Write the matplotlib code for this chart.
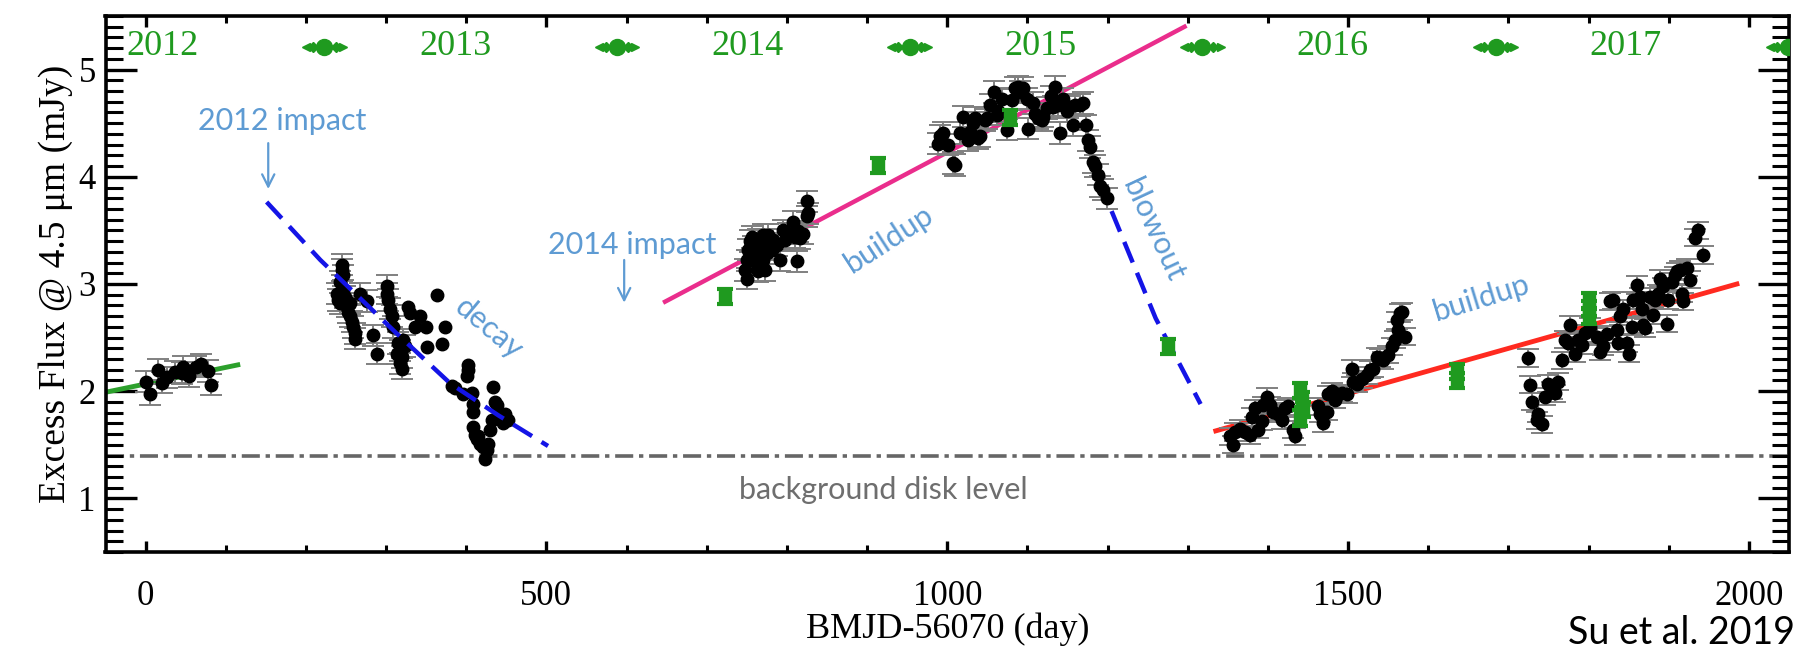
import matplotlib
matplotlib.use("Agg")
import matplotlib.pyplot as plt
from matplotlib.ticker import MultipleLocator

# ---------------- data ----------------
day_2012 = [0.5, 5.5, 15.9, 20.0, 27.1, 36.7, 46.2, 45.0, 54.6, 62.9, 68.7, 77.4, 81.6]
flux_2012 = [2.09, 1.97, 2.20, 2.08, 2.13, 2.18, 2.23, 2.17, 2.14, 2.23, 2.25, 2.19, 2.06]
err_2012 = 0.10

day_2013a = [244.6, 244.6, 245.9, 242.6, 246.7, 238.4, 240.5, 242.6, 248.8, 255.0, 250.9, 253.0,
             255.0, 257.1, 259.2, 261.3, 261.3, 267.5, 275.8, 283.3, 288.3, 300.8, 300.8, 302.8,
             304.9, 307.0, 309.1, 321.6, 315.3, 323.6, 317.4, 313.2, 319.5, 317.4, 319.5]
flux_2013a = [3.18, 3.13, 3.08, 3.02, 2.94, 2.91, 2.85, 2.82, 2.88, 2.82, 2.79, 2.74,
              2.70, 2.65, 2.60, 2.54, 2.49, 2.91, 2.84, 2.52, 2.35, 2.98, 2.91, 2.85,
              2.77, 2.70, 2.60, 2.48, 2.45, 2.42, 2.38, 2.35, 2.32, 2.26, 2.21]
err_2013a = 0.10

day_2013b = [327.8, 329.9, 336.1, 342.3, 349.8, 351.5, 363.1, 369.4, 373.5, 381.8, 386.0, 396.4,
             400.6, 402.6, 402.6, 406.8, 408.9, 408.9, 433.8, 435.9, 438.0, 431.7, 429.7, 442.1,
             448.4, 452.5, 446.3, 408.9, 411.0, 413.0, 415.1, 417.2, 421.3, 425.5, 427.6, 423.4]
flux_2013b = [2.79, 2.73, 2.60, 2.70, 2.60, 2.41, 2.90, 2.44, 2.60, 2.05, 2.03, 1.97,
              2.14, 2.24, 2.20, 1.98, 1.88, 1.81, 2.04, 1.90, 1.87, 1.73, 1.64, 1.78,
              1.79, 1.73, 1.70, 1.67, 1.59, 1.55, 1.58, 1.51, 1.48, 1.45, 1.51, 1.37]

day_2014 = [747.7, 749.8, 749.8, 751.9, 754.0, 756.0, 758.1, 760.2, 762.3, 764.4, 766.4, 768.5,
            770.6, 772.7, 774.8, 776.8, 778.9, 781.0, 783.1, 787.2, 791.4, 795.6, 797.6, 801.8,
            808.0, 810.1, 812.2, 814.3, 816.3, 820.5, 824.7, 826.7, 825.5, 764.4, 770.6]
flux_2014 = [3.13, 3.05, 3.22, 3.32, 3.40, 3.44, 3.35, 3.27, 3.19, 3.12, 3.35, 3.41,
             3.22, 3.13, 3.29, 3.46, 3.38, 3.32, 3.41, 3.36, 3.22, 3.50, 3.41, 3.47,
             3.58, 3.44, 3.21, 3.49, 3.43, 3.47, 3.63, 3.66, 3.77, 3.41, 3.46]
err_2014 = 0.10

day_2015 = [988.9, 990.9, 995.1, 1001.3, 1007.6, 1009.7, 1015.9, 1019.2, 1026.3, 1028.4, 1032.5,
            1034.6, 1038.8, 1040.8, 1047.1, 1049.2, 1053.3, 1058.3, 1061.6, 1063.7, 1068.7, 1074.9,
            1080.3, 1084.5, 1088.7, 1090.7, 1094.9, 1099.1, 1101.1, 1107.4, 1109.5, 1113.6, 1117.8,
            1119.8, 1124.0, 1129.4, 1132.3, 1134.4, 1138.6, 1140.6, 1144.8, 1149.0, 1151.0, 1157.3,
            1159.3, 1165.6, 1169.7, 1172.6, 1176.0, 1178.1, 1182.2, 1184.3, 1188.5, 1190.5, 1193.9,
            1198.9]
flux_2015 = [4.31, 4.38, 4.41, 4.30, 4.13, 4.11, 4.41, 4.56, 4.34, 4.42, 4.50,
             4.55, 4.36, 4.38, 4.53, 4.55, 4.67, 4.79, 4.58, 4.61, 4.73, 4.44,
             4.72, 4.83, 4.84, 4.79, 4.83, 4.73, 4.45, 4.69, 4.59, 4.55, 4.53,
             4.56, 4.64, 4.75, 4.65, 4.84, 4.67, 4.41, 4.73, 4.61, 4.65, 4.48,
             4.67, 4.67, 4.69, 4.48, 4.34, 4.28, 4.14, 4.10, 4.02, 3.91, 3.88,
             3.80]
err_2015 = 0.10

day_2016 = [1352.7, 1356.0, 1358.9, 1365.1, 1371.4, 1377.6, 1379.7, 1383.9, 1388.0, 1392.2, 1394.3,
            1398.4, 1402.6, 1406.7, 1413.0, 1417.1, 1421.3, 1425.4, 1431.7, 1433.8, 1462.9, 1465.0,
            1469.1, 1473.3, 1475.3, 1479.5, 1483.7, 1487.8, 1492.0, 1498.2, 1504.4, 1506.5, 1510.7,
            1516.9, 1523.2, 1527.3, 1531.5, 1535.6, 1539.8, 1544.0, 1550.2, 1554.3, 1558.5, 1562.7,
            1571.0, 1560.6, 1564.7, 1566.8]
flux_2016 = [1.58, 1.50, 1.62, 1.65, 1.62, 1.59, 1.76, 1.84, 1.64, 1.72, 1.87,
             1.95, 1.87, 1.81, 1.79, 1.73, 1.84, 1.86, 1.64, 1.58, 1.86, 1.79,
             1.70, 1.81, 1.97, 2.00, 1.92, 1.97, 1.98, 1.97, 2.21, 2.09, 2.07,
             2.11, 2.15, 2.20, 2.21, 2.32, 2.31, 2.29, 2.34, 2.42, 2.48, 2.57,
             2.51, 2.66, 2.73, 2.74]
err_2016 = 0.08

day_2017 = [1724.8, 1726.9, 1729.0, 1735.2, 1737.3, 1741.4, 1745.6, 1749.8, 1753.9, 1758.1, 1762.2,
            1766.4, 1770.6, 1774.7, 1776.8, 1783.0, 1787.2, 1791.3, 1795.5, 1801.7, 1810.1, 1814.2,
            1818.4, 1822.5, 1826.7, 1830.8, 1835.0, 1837.1, 1839.2, 1843.3, 1847.5, 1850.8, 1853.7,
            1855.8, 1860.0, 1864.1, 1866.2, 1868.3, 1870.3, 1876.6, 1880.7, 1882.8, 1887.0, 1889.1,
            1893.2, 1897.4, 1899.5, 1903.6, 1907.8, 1909.8, 1914.0, 1916.1, 1918.2, 1922.3, 1926.5,
            1932.7, 1936.9, 1943.1]
flux_2017 = [2.31, 2.06, 1.90, 1.73, 1.79, 1.69, 1.95, 2.07, 2.01, 1.98, 2.09,
             2.29, 2.48, 2.45, 2.62, 2.35, 2.48, 2.43, 2.54, 2.60, 2.51, 2.37,
             2.42, 2.53, 2.84, 2.85, 2.57, 2.45, 2.70, 2.77, 2.45, 2.35, 2.60,
             2.85, 2.99, 2.88, 2.77, 2.62, 2.59, 2.88, 2.71, 2.85, 2.91, 3.05,
             2.98, 2.63, 2.85, 3.02, 3.08, 3.12, 3.13, 2.91, 2.84, 3.15, 3.04,
             3.43, 3.50, 3.27]
err_2017 = 0.08

green_day = [723, 913, 1078, 1275, 1440, 1442, 1444, 1440, 1636, 1636, 1800, 1800, 1800]
green_flux = [2.88, 4.11, 4.55, 2.42, 2.01, 1.92, 1.83, 1.75, 2.18, 2.10, 2.85, 2.77, 2.70]
green_err = 0.07

trend_2012_day = [-50, 118]
trend_2012_flux = [1.99, 2.25]
decay_day = [151, 218, 313, 380, 440, 502]
decay_flux = [3.765, 3.224, 2.54, 2.073, 1.775, 1.489]
buildup1_day = [648, 1296]
buildup1_flux = [2.835, 5.40]
blowout_day = [1205, 1260, 1316]
blowout_flux = [3.68, 2.68, 1.88]
buildup2_day = [1335, 1985]
buildup2_flux = [1.63, 3.00]
background_level = 1.4

year_labels = ["2012", "2013", "2014", "2015", "2016", "2017"]
year_label_day = [21, 386, 751, 1116, 1481, 1846]
year_start_day = [223, 588, 953, 1318, 1684, 2049]

# ---------------- figure ----------------
W, H = 1798, 652
fig = plt.figure(figsize=(W / 100, H / 100), dpi=100)
ax = fig.add_axes([105.5 / W, 1 - 552 / H, 1683.5 / W, 536 / H])
ax.set_xlim(-50, 2050)
ax.set_ylim(0.5, 5.5)

serif = "Liberation Serif"
sans = "Lato"
ann_col = "#5e9bd3"
green = "#1f9a1f"

# background level
ax.axhline(background_level, color="#666666", lw=2.6, ls=(0, (5, 1.6, 1.2, 1.6)), zorder=1)

# fitted trend lines
ax.plot(trend_2012_day, trend_2012_flux, color="#2ca02c", lw=3.5, zorder=2, solid_capstyle="butt")
ax.plot(decay_day, decay_flux, color="#1414e6", lw=3.2, ls=(0, (5, 2.5)), zorder=4)
ax.plot(buildup1_day, buildup1_flux, color="#ea2d8c", lw=3.2, zorder=2)
ax.plot(blowout_day, blowout_flux, color="#1414e6", lw=3.2, ls=(0, (5, 2.5)), zorder=4)
ax.plot(buildup2_day, buildup2_flux, color="#ff2a20", lw=3.5, zorder=2)

ekw = dict(fmt="o", color="black", ms=9, ecolor="#808080", elinewidth=1.4,
           capsize=8, capthick=1.4, zorder=3)
for d, f, e in [(day_2012, flux_2012, err_2012), (day_2013a, flux_2013a, err_2013a),
                (day_2014, flux_2014, err_2014), (day_2015, flux_2015, err_2015),
                (day_2016, flux_2016, err_2016), (day_2017, flux_2017, err_2017)]:
    ax.errorbar(d, f, yerr=e, **ekw)
ax.plot(day_2013b, flux_2013b, "o", color="black", ms=9, zorder=3)

ax.errorbar(green_day, green_flux, yerr=green_err, fmt="s", color=green, ms=8,
            ecolor=green, elinewidth=4, capsize=6, capthick=3, zorder=5)

# year labels and year-boundary markers at the top
for lab, d in zip(year_labels, year_label_day):
    ax.text(d, 5.22, lab, color=green, fontsize=26, family=serif, ha="center", va="center")
for d in year_start_day:
    ax.plot([d - 24, d + 24], [5.21, 5.21], color=green, lw=2.2, zorder=5)
    ax.plot([d - 14, d + 14], [5.21, 5.21], "D", color=green, ms=5.5, lw=0, zorder=5)
    ax.plot([d - 23], [5.21], "<", color=green, ms=6, zorder=5)
    ax.plot([d + 23], [5.21], ">", color=green, ms=6, zorder=5)
    ax.plot([d], [5.21], "o", color=green, ms=11.5, zorder=6)

# annotations
ax.text(171, 4.52, "2012 impact", color=ann_col, fontsize=22, family=sans, ha="center", va="center")
ax.annotate("", xy=(153, 3.86), xytext=(153, 4.34),
            arrowprops=dict(arrowstyle="->", color=ann_col, lw=1.6, mutation_scale=22))
ax.text(607, 3.36, "2014 impact", color=ann_col, fontsize=22, family=sans, ha="center", va="center")
ax.annotate("", xy=(597, 2.80), xytext=(597, 3.25),
            arrowprops=dict(arrowstyle="->", color=ann_col, lw=1.6, mutation_scale=22))
ax.text(428, 2.58, "decay", color=ann_col, fontsize=22, family=sans, ha="center", va="center",
        rotation=-40, rotation_mode="anchor")
ax.text(927, 3.42, "buildup", color=ann_col, fontsize=22, family=sans, ha="center", va="center",
        rotation=33, rotation_mode="anchor")
ax.text(1257, 3.50, "blowout", color=ann_col, fontsize=22, family=sans, ha="center", va="center",
        rotation=-65, rotation_mode="anchor")
ax.text(1666, 2.87, "buildup", color=ann_col, fontsize=22, family=sans, ha="center", va="center",
        rotation=17, rotation_mode="anchor")
ax.text(920, 1.08, "background disk level", color="#6e6e6e", fontsize=22, family=sans,
        ha="center", va="center")

# axes styling
for s in ax.spines.values():
    s.set_linewidth(2.6)
ax.xaxis.set_major_locator(MultipleLocator(500))
ax.xaxis.set_minor_locator(MultipleLocator(100))
ax.yaxis.set_major_locator(MultipleLocator(1))
ax.yaxis.set_minor_locator(MultipleLocator(0.1))
ax.tick_params(axis="x", which="major", direction="in", length=8, width=2.4, top=True,
               labelsize=25, pad=20)
ax.tick_params(axis="x", which="minor", direction="in", length=5, width=2.2, top=True)
ax.tick_params(axis="y", which="major", direction="in", length=22, width=2.4, right=True,
               labelsize=25, pad=7)
ax.tick_params(axis="y", which="minor", direction="in", length=12, width=2.2, right=True)
for lab in ax.get_xticklabels() + ax.get_yticklabels():
    lab.set_family(serif)

ax.set_xlabel("BMJD-56070 (day)", fontsize=26, family=serif, labelpad=0)
ax.set_ylabel("Excess Flux @ 4.5 \u03bcm (mJy)", fontsize=27, family=serif, labelpad=4)

fig.text(1795 / W, 0.012, "Su et al. 2019", fontsize=27, family=sans, ha="right", va="baseline")

fig.savefig("out.png", dpi=100)
